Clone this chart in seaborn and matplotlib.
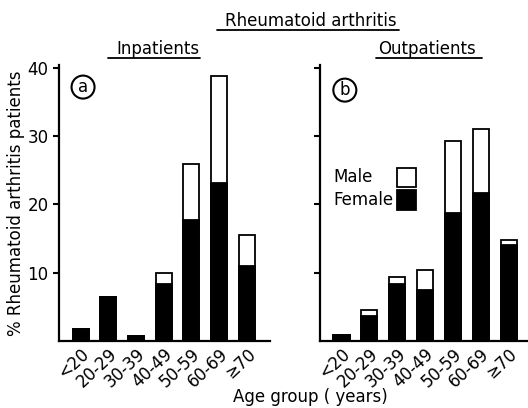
import numpy as np
import pandas as pd
import matplotlib
matplotlib.use("Agg")
import matplotlib.pyplot as plt
import seaborn as sns
from matplotlib.lines import Line2D
from matplotlib.patches import Rectangle


# ================== DATA ==================
age_groups = ['<20', '20-29', '30-39', '40-49', '50-59', '60-69', '≥70']

in_female = [1.7, 6.4, 0.7, 8.4, 17.7, 23.2, 11.0]
in_male = [0.0, 0.0, 0.0, 1.6, 8.2, 15.6, 4.5]

out_female = [0.9, 3.6, 8.4, 7.5, 18.8, 21.6, 14.0]
out_male = [0.0, 0.9, 0.9, 2.9, 10.5, 9.4, 0.8]

y_ticks = [10, 20, 30, 40]


# ================== HELPERS ==================

def stacked_panel(ax, female, male, xlim):
    df = pd.DataFrame({'Age': age_groups, 'Female': female, 'Male': male})
    df['Total'] = df['Female'] + df['Male']

    # total bar in white, female part in black drawn on top
    sns.barplot(data=df, x='Age', y='Total', color='white', edgecolor='black',
                linewidth=1.3, width=0.58, saturation=1, errorbar=None, ax=ax)
    sns.barplot(data=df, x='Age', y='Female', color='black', edgecolor='black',
                linewidth=1.3, width=0.58, saturation=1, errorbar=None, ax=ax)

    ax.set_xlim(*xlim)
    ax.set_ylim(0, 40.4)
    ax.set_yticks(y_ticks)
    ax.set_xlabel('')
    ax.set_ylabel('')
    ax.set_xticks(range(len(age_groups)))
    ax.set_xticklabels(age_groups, rotation=43, ha='right', va='top',
                       rotation_mode='anchor', fontsize=12)
    ax.tick_params(axis='x', length=0, pad=3)
    ax.tick_params(axis='y', direction='out', length=4, width=1.5, labelsize=12)
    for side in ['left', 'bottom']:
        ax.spines[side].set_linewidth(1.6)
    sns.despine(ax=ax)


def underline(fig, txt, renderer, extra_left=0.0, extra_right=0.0, gap=2):
    bb = txt.get_window_extent(renderer)
    x0, x1 = bb.x0 - extra_left, bb.x1 + extra_right
    y = bb.y0 - gap
    inv = fig.transFigure.inverted()
    (fx0, fy), (fx1, _) = inv.transform([(x0, y), (x1, y)])
    fig.add_artist(Line2D([fx0, fx1], [fy, fy], transform=fig.transFigure,
                          color='black', lw=1.3))


# ================== PLOT ==================
sns.set_style('ticks')
plt.rcParams['font.family'] = ['DejaVu Sans']
for key in ['text.color', 'axes.labelcolor', 'xtick.color', 'ytick.color',
            'axes.edgecolor']:
    plt.rcParams[key] = 'black'

fig = plt.figure(figsize=(5.28, 4.08), dpi=100)
ax1 = fig.add_axes([59 / 528, 1 - 341 / 408, 211 / 528, 276 / 408])
ax2 = fig.add_axes([320 / 528, 1 - 341 / 408, 207 / 528, 276 / 408])

stacked_panel(ax1, in_female, in_male, (-0.78, 6.84))
stacked_panel(ax2, out_female, out_male, (-0.77, 6.66))
ax2.set_yticklabels([])

ax1.set_ylabel('% Rheumatoid arthritis patients', fontsize=12, labelpad=2)

# panel letters
circle = dict(boxstyle='circle,pad=0.15', fc='white', ec='black', lw=1.5)
ax1.text(0.114, 0.92, 'a', transform=ax1.transAxes, fontsize=12,
         ha='center', va='center', bbox=circle)
ax2.text(0.12, 0.909, 'b', transform=ax2.transAxes, fontsize=12,
         ha='center', va='center', bbox=circle)

# legend drawn by hand: labels left, boxes right
ax2.text(0.0625, 0.594, 'Male', transform=ax2.transAxes, fontsize=12,
         ha='left', va='center')
ax2.text(0.0625, 0.511, 'Female', transform=ax2.transAxes, fontsize=12,
         ha='left', va='center')
ax2.add_patch(Rectangle((0.37, 0.558), 0.096, 0.069, transform=ax2.transAxes,
                        fc='white', ec='black', lw=1.3, clip_on=False))
ax2.add_patch(Rectangle((0.37, 0.475), 0.096, 0.072, transform=ax2.transAxes,
                        fc='black', ec='black', lw=1.3, clip_on=False))

# titles
t_main = fig.text(311 / 528, 1 - 21 / 408, 'Rheumatoid arthritis', fontsize=12,
                  ha='center', va='center')
t_in = fig.text(158 / 528, 1 - 49 / 408, 'Inpatients', fontsize=12,
                ha='center', va='center')
t_out = fig.text(427 / 528, 1 - 49 / 408, 'Outpatients', fontsize=12,
                 ha='center', va='center')
fig.text(310 / 528, 1 - 397 / 408, 'Age group ( years)', fontsize=12,
         ha='center', va='center')

fig.canvas.draw()
renderer = fig.canvas.get_renderer()
underline(fig, t_main, renderer, extra_left=8, extra_right=2, gap=0)
underline(fig, t_in, renderer, extra_left=8, gap=0)
underline(fig, t_out, renderer, extra_left=2, extra_right=6, gap=0)

fig.savefig('out.png', dpi=100)
